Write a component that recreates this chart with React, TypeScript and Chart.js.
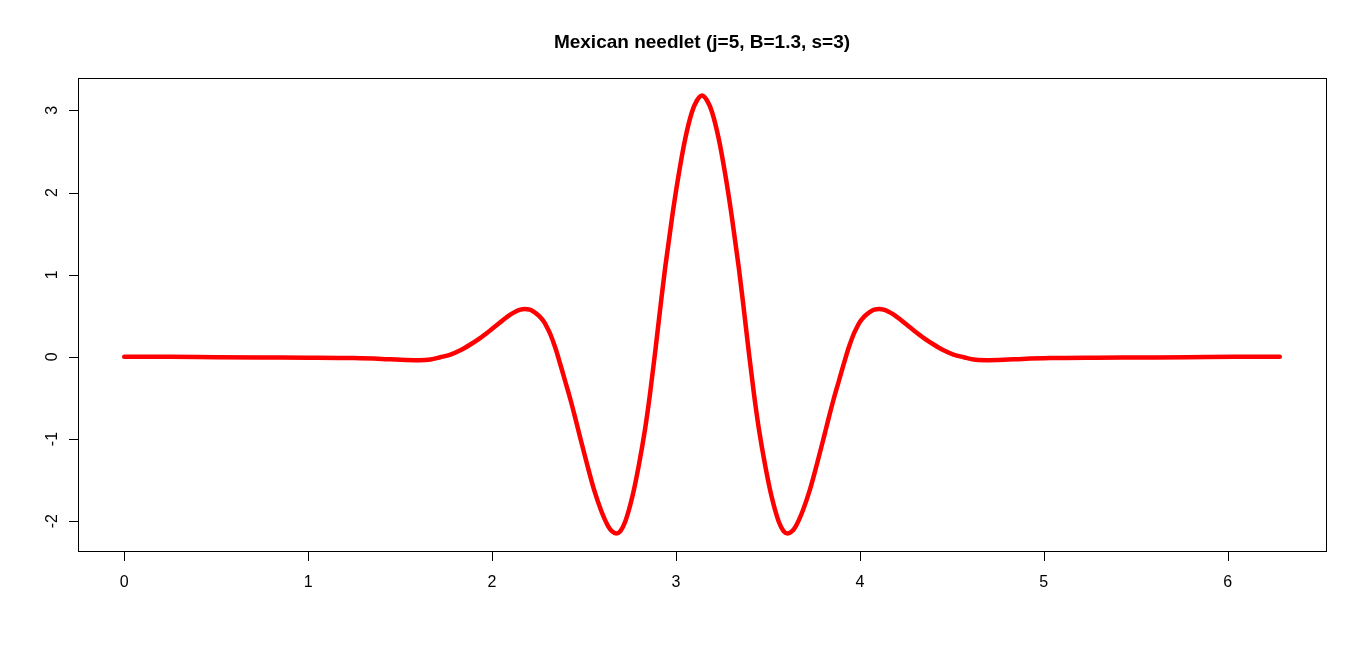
import React, { useEffect, useRef } from "react";
import { Chart, registerables } from "chart.js";

Chart.register(...registerables);

const TITLE = "Mexican needlet (j=5, B=1.3, s=3)";

const xValues = [
  0, 0.25, 0.5, 0.75, 1.0, 1.25, 1.4, 1.5, 1.6, 1.665, 1.719, 1.774, 1.828, 1.882,
  1.937, 1.991, 2.045, 2.072, 2.099, 2.127, 2.154, 2.176, 2.205, 2.23, 2.257, 2.284,
  2.3, 2.317, 2.344, 2.371, 2.398, 2.425, 2.452, 2.479, 2.517, 2.555, 2.593, 2.631,
  2.653, 2.675, 2.698, 2.725, 2.762, 2.798, 2.832, 2.859, 2.887, 2.914, 2.941, 2.979,
  3.015, 3.051, 3.087, 3.114, 3.1416,
  3.169, 3.196, 3.232, 3.268, 3.304, 3.342, 3.369, 3.396, 3.424, 3.451, 3.485, 3.521,
  3.558, 3.585, 3.608, 3.63, 3.652, 3.69, 3.728, 3.766, 3.804, 3.831, 3.858, 3.885,
  3.912, 3.939, 3.966, 3.983, 3.999, 4.026, 4.053, 4.078, 4.107, 4.129, 4.156, 4.184,
  4.211, 4.238, 4.292, 4.346, 4.401, 4.455, 4.509, 4.564, 4.618, 4.683, 4.783, 4.883,
  5.033, 5.283, 5.533, 5.783, 6.033, 6.2832,
];

const yValues = [
  0, 0, -0.005, -0.008, -0.01, -0.015, -0.025, -0.035, -0.04, -0.033, -0.005, 0.028,
  0.08, 0.15, 0.231, 0.324, 0.421, 0.47, 0.515, 0.55, 0.574, 0.583, 0.576, 0.545,
  0.495, 0.42, 0.355, 0.275, 0.11, -0.09, -0.3, -0.51, -0.74, -0.98, -1.31, -1.62,
  -1.87, -2.06, -2.125, -2.15, -2.12, -2.0, -1.71, -1.32, -0.88, -0.45, 0.06, 0.58,
  1.08, 1.7, 2.22, 2.66, 2.98, 3.12, 3.18,
  3.12, 2.98, 2.66, 2.22, 1.7, 1.08, 0.58, 0.06, -0.45, -0.88, -1.32, -1.71, -2.0,
  -2.12, -2.15, -2.125, -2.06, -1.87, -1.62, -1.31, -0.98, -0.74, -0.51, -0.3, -0.09,
  0.11, 0.275, 0.355, 0.42, 0.495, 0.545, 0.576, 0.583, 0.574, 0.55, 0.515, 0.47,
  0.421, 0.324, 0.231, 0.15, 0.08, 0.028, -0.005, -0.033, -0.04, -0.035, -0.025,
  -0.015, -0.01, -0.008, -0.005, 0, 0,
];

const xTicks = [0, 1, 2, 3, 4, 5, 6];
const yTicks = [-2, -1, 0, 1, 2, 3];

const X_MIN = -0.2513;
const X_MAX = 6.5345;
const Y_MIN = -2.363;
const Y_MAX = 3.394;

const FONT = '"Liberation Sans", Arial, Helvetica, sans-serif';

const rAxesPlugin = {
  id: "rAxes",
  afterDraw(chart: any) {
    const ctx = chart.ctx;
    const { left, right, top, bottom } = chart.chartArea;
    const xs = chart.scales.x;
    const ys = chart.scales.y;
    ctx.save();
    ctx.strokeStyle = "#000";
    ctx.lineWidth = 1;
    ctx.strokeRect(left + 0.5, top + 0.5, right - left, bottom - top);
    ctx.beginPath();
    xTicks.forEach((v) => {
      const p = Math.round(xs.getPixelForValue(v)) + 0.5;
      ctx.moveTo(p, bottom + 0.5);
      ctx.lineTo(p, bottom + 10);
    });
    yTicks.forEach((v) => {
      const p = Math.round(ys.getPixelForValue(v)) + 0.5;
      ctx.moveTo(left + 0.5, p);
      ctx.lineTo(left - 9, p);
    });
    ctx.stroke();

    ctx.fillStyle = "#000";
    ctx.font = `16px ${FONT}`;
    ctx.textAlign = "center";
    ctx.textBaseline = "alphabetic";
    xTicks.forEach((v) => {
      ctx.fillText(String(v), xs.getPixelForValue(v), 587);
    });
    yTicks.forEach((v) => {
      const p = ys.getPixelForValue(v);
      ctx.save();
      ctx.translate(56.5, p);
      ctx.rotate(-Math.PI / 2);
      ctx.fillText(String(v), 0, 0);
      ctx.restore();
    });

    ctx.font = `bold 19px ${FONT}`;
    ctx.fillText(TITLE, (left + right) / 2, 47.5);
    ctx.restore();
  },
};

export default function App() {
  const canvasRef = useRef<HTMLCanvasElement | null>(null);

  useEffect(() => {
    if (!canvasRef.current) return;
    const points = xValues.map((x, i) => ({ x, y: yValues[i] }));
    const chart = new Chart(canvasRef.current, {
      type: "line",
      data: {
        datasets: [
          {
            data: points,
            borderColor: "#FF0000",
            borderWidth: 4.5,
            pointRadius: 0,
            fill: false,
            cubicInterpolationMode: "monotone",
            borderCapStyle: "round",
            borderJoinStyle: "round",
          },
        ],
      },
      options: {
        animation: false,
        responsive: false,
        devicePixelRatio: 1,
        layout: { padding: { left: 78, top: 78, right: 40, bottom: 99 } },
        plugins: {
          legend: { display: false },
          title: { display: false },
          tooltip: { enabled: false },
        },
        events: [],
        scales: {
          x: { type: "linear", min: X_MIN, max: X_MAX, display: false },
          y: { type: "linear", min: Y_MIN, max: Y_MAX, display: false },
        },
      },
      plugins: [rAxesPlugin],
    } as any);
    return () => chart.destroy();
  }, []);

  return (
    <div style={{ position: "absolute", left: 0, top: 0, width: 1366, height: 650, background: "#fff" }}>
      <canvas ref={canvasRef} width={1366} height={650} />
    </div>
  );
}
